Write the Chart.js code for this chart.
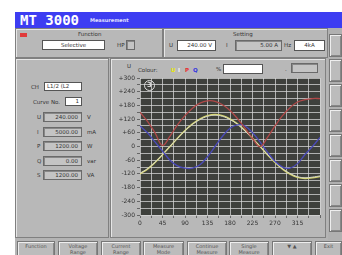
<!DOCTYPE html>
<html>
<head>
<meta charset="utf-8">
<script src="https://cdn.jsdelivr.net/npm/chart.js@4"></script>
<style>
  body { margin: 0; width: 342px; height: 255px; overflow: hidden; background: #fff; font-family: "DejaVu Sans", sans-serif; }
  .abs { position: absolute; }
  #frame { left: 15px; top: 12px; width: 327px; height: 243px; background: #b4b4b4; }
  #title { left: 15px; top: 12px; width: 327px; height: 16px; background: #3d3df2; color: #fff; }
  #title .big { position: absolute; left: 5px; top: 0px; font: bold 14px "DejaVu Sans Mono", monospace; }
  #title .small { position: absolute; left: 75px; top: 5px; font: bold 5px "DejaVu Sans", sans-serif; color: #e0e0ff; }
  .group { border: 1px solid #808080; box-shadow: inset 1px 1px 0 #e6e6e6; box-sizing: border-box; background: #b8b8b8; }
  .lbl { font-size: 5.5px; color: #333; white-space: nowrap; }
  .box { background: #fff; border: 1px solid #555; box-sizing: border-box; font-size: 5.5px; color: #333; white-space: nowrap; line-height: 8px; }
  .sunk { background: #c4c4c4; border: 1px solid #6a6a6a; box-shadow: inset 1px 1px 0 #888; box-sizing: border-box; font-size: 5.5px; color: #333; text-align: right; padding-right: 3px; line-height: 8px; white-space: nowrap; }
  .btn { background: #bcbcbc; border: 1px solid #777; box-shadow: inset 1px 1px 0 #eee, inset -1px -1px 0 #888; box-sizing: border-box; font-size: 5px; color: #555; text-align: center; line-height: 5.5px; padding-top: 2px; }
  #chartWrap { left: 110px; top: 60px; width: 213px; height: 175px; }
  #circ { left: 144px; top: 80px; width: 9px; height: 9px; border: 1px solid #ddd; border-radius: 50%; color: #ddd; font: bold 7px "DejaVu Sans", sans-serif; text-align: center; line-height: 9px; }
</style>
</head>
<body>
<div id="frame" class="abs"></div>
<div id="title" class="abs"><span class="big">MT 3000</span><span class="small">Measurement</span></div>

<!-- function group -->
<div class="abs group" style="left:15px;top:28px;width:148px;height:30px;"></div>
<div class="abs" style="left:20px;top:33px;width:7px;height:4px;background:#e03a3a;"></div>
<div class="abs lbl" style="left:78px;top:31px;">Function</div>
<div class="abs box" style="left:42px;top:40px;width:63px;height:10px;text-align:center;">Selective</div>
<div class="abs lbl" style="left:117px;top:42px;">HP</div>
<div class="abs sunk" style="left:126px;top:40px;width:9px;height:10px;"></div>

<!-- setting group -->
<div class="abs group" style="left:163px;top:28px;width:165px;height:30px;"></div>
<div class="abs lbl" style="left:233px;top:31px;">Setting</div>
<div class="abs lbl" style="left:169px;top:42px;">U</div>
<div class="abs box" style="left:177px;top:40px;width:39px;height:11px;text-align:right;padding-right:3px;line-height:9px;">240.00 V</div>
<div class="abs lbl" style="left:226px;top:42px;">I</div>
<div class="abs sunk" style="left:235px;top:40px;width:47px;height:11px;line-height:9px;">5.00 A</div>
<div class="abs lbl" style="left:284px;top:42px;">Hz</div>
<div class="abs box" style="left:294px;top:40px;width:31px;height:11px;text-align:center;line-height:9px;">4kA</div>

<!-- right strip -->
<div class="abs" style="left:328px;top:28px;width:14px;height:212px;background:#b0b0b0;"></div>
<div id="strip"></div>

<!-- left panel -->
<div class="abs group" style="left:15px;top:58px;width:94px;height:180px;"></div>
<div id="left"></div>

<!-- chart panel -->
<div class="abs group" style="left:110px;top:58px;width:216px;height:180px;"></div>
<div class="abs lbl" style="left:127px;top:63px;">U</div>
<div class="abs lbl" style="left:138px;top:67px;">Colour:</div>
<div class="abs lbl" style="left:171px;top:67px;color:#e8e800;font-weight:bold;">U</div>
<div class="abs lbl" style="left:178px;top:67px;color:#f4f4f4;font-weight:bold;">I</div>
<div class="abs lbl" style="left:185px;top:67px;color:#e83030;font-weight:bold;">P</div>
<div class="abs lbl" style="left:193px;top:67px;color:#3030e0;font-weight:bold;">Q</div>
<div class="abs lbl" style="left:216px;top:66px;">%</div>
<div class="abs box" style="left:223px;top:64px;width:40px;height:10px;"></div>
<div class="abs lbl" style="left:285px;top:66px;">.</div>
<div class="abs sunk" style="left:291px;top:63px;width:27px;height:10px;"></div>
<div id="chartWrap" class="abs"><canvas id="wave" width="213" height="175"></canvas></div>
<div id="circ" class="abs">3</div>

<!-- bottom buttons -->
<div id="bottom"></div>

<script>
// x positions in degrees (one period)
const angles = [0, 15, 30, 45, 60, 75, 90, 105, 120, 135, 150, 165, 180, 195, 210, 225, 240, 255, 270, 285, 300, 315, 330, 345, 360];
// U (yellow), I (white), P (red), Q (blue)
const uVals = [-120, -99, -70, -36, 0, 36, 70, 99, 121, 135, 140, 135, 121, 99, 70, 36, 0, -36, -70, -99, -121, -135, -140, -137, -132];
const iVals = [-117, -97, -69, -35, 1, 35, 69, 97, 118, 132, 137, 132, 118, 97, 68, 35, 0, -35, -68, -97, -118, -132, -137, -134, -129];
const pVals = [150, 110, 60, 5, 45, 95, 135, 168, 190, 200, 198, 183, 158, 122, 80, 35, 0, 40, 90, 135, 170, 195, 205, 210, 210];
const qVals = [90, 60, 20, -20, -60, -85, -95, -95, -80, -45, 0, 45, 80, 95, 90, 60, 20, -25, -65, -90, -95, -75, -35, 0, 40];

const leftRows = [
  { name: 'U', value: '240.000', unit: 'V' },
  { name: 'I', value: '5000.00', unit: 'mA' },
  { name: 'P', value: '1200.00', unit: 'W' },
  { name: 'Q', value: '0.00', unit: 'var' },
  { name: 'S', value: '1200.00', unit: 'VA' }
];
const bottomButtons = [
  ['Function'], ['Voltage', 'Range'], ['Current', 'Range'], ['Measure', 'Mode'],
  ['Continue', 'Measure'], ['Single', 'Measure'], ['\u25BC  \u25B2'], ['Exit']
];
const bottomX = [17, 58, 101, 143, 187, 229, 272, 315];
const bottomW = [38, 40, 40, 41, 40, 40, 40, 27];

function el(parent, cls, style, text) {
  const d = document.createElement('div');
  d.className = 'abs ' + cls;
  d.setAttribute('style', style);
  if (text !== undefined) d.innerHTML = text;
  parent.appendChild(d);
  return d;
}

// left value panel
const left = document.getElementById('left');
el(left, 'lbl', 'left:31px;top:84px;', 'CH');
el(left, 'box', 'left:44px;top:82px;width:38px;height:9px;padding-left:2px;line-height:7px;', 'L1/2 (L2');
el(left, 'lbl', 'left:33px;top:99px;', 'Curve No.');
el(left, 'box', 'left:65px;top:97px;width:17px;height:9px;text-align:right;padding-right:2px;line-height:7px;', '1');
leftRows.forEach((r, i) => {
  const y = 112 + i * 14.5;
  el(left, 'lbl', `left:37px;top:${y + 2}px;`, r.name);
  el(left, 'sunk', `left:43px;top:${y}px;width:39px;height:10px;`, r.value);
  el(left, 'lbl', `left:87px;top:${y + 2}px;`, r.unit);
});

// right strip buttons
const strip = document.getElementById('strip');
for (let i = 0; i < 8; i++) {
  el(strip, 'btn', `left:329px;top:${34 + i * 25}px;width:13px;height:23px;`);
}

// bottom buttons
const bottom = document.getElementById('bottom');
bottomButtons.forEach((b, i) => {
  el(bottom, 'btn', `left:${bottomX[i]}px;top:241px;width:${bottomW[i]}px;height:16px;`, b.join('<br>'));
});

// dark plot background
const plotBg = {
  id: 'plotBg',
  beforeDraw(chart) {
    const { ctx, chartArea: a } = chart;
    ctx.save();
    ctx.fillStyle = '#3e403c';
    ctx.fillRect(a.left, a.top, a.right - a.left, a.bottom - a.top);
    ctx.restore();
  }
};

function pts(vals) {
  return angles.map((a, i) => ({ x: a, y: vals[i] }));
}

const ctx = document.getElementById('wave').getContext('2d');
new Chart(ctx, {
  type: 'line',
  data: {
    datasets: [
      { label: 'P', data: pts(pVals), borderColor: '#b04848', borderWidth: 1.3 },
      { label: 'Q', data: pts(qVals), borderColor: '#4a4ab8', borderWidth: 1.3 },
      { label: 'I', data: pts(iVals), borderColor: '#d8d8c8', borderWidth: 1 },
      { label: 'U', data: pts(uVals), borderColor: '#d6d66a', borderWidth: 1.4 }
    ]
  },
  options: {
    responsive: false,
    animation: false,
    devicePixelRatio: 1,
    layout: { padding: { left: 0, top: 18, right: 3, bottom: 0 } },
    elements: { point: { radius: 0 }, line: { tension: 0.4 } },
    plugins: { legend: { display: false }, tooltip: { enabled: false } },
    scales: {
      x: {
        type: 'linear', min: 0, max: 360,
        afterBuildTicks: s => { s.ticks = []; for (let v = 0; v <= 360; v += 22.5) s.ticks.push({ value: v }); },
        afterFit: s => { s.height = 20; },
        ticks: {
          autoSkip: false, maxRotation: 0, padding: 2,
          color: '#333', font: { family: 'DejaVu Sans', size: 6 },
          callback: v => (v % 45 === 0 && v < 360) ? String(v) : ''
        },
        grid: { color: 'rgba(215,215,215,0.75)', lineWidth: 1, tickLength: 3, tickColor: '#666' },
        border: { display: false }
      },
      y: {
        min: -300, max: 300,
        afterBuildTicks: s => { s.ticks = []; for (let v = -300; v <= 300; v += 30) s.ticks.push({ value: v }); },
        afterFit: s => { s.width = 30; },
        ticks: {
          autoSkip: false, padding: 2,
          color: '#333', font: { family: 'DejaVu Sans', size: 6 },
          callback: v => v % 60 !== 0 ? '' : (v > 0 ? '+' + v : String(v))
        },
        grid: { color: 'rgba(215,215,215,0.75)', lineWidth: 1, tickLength: 3, tickColor: '#666' },
        border: { display: false }
      }
    }
  },
  plugins: [plotBg]
});
</script>
</body>
</html>
